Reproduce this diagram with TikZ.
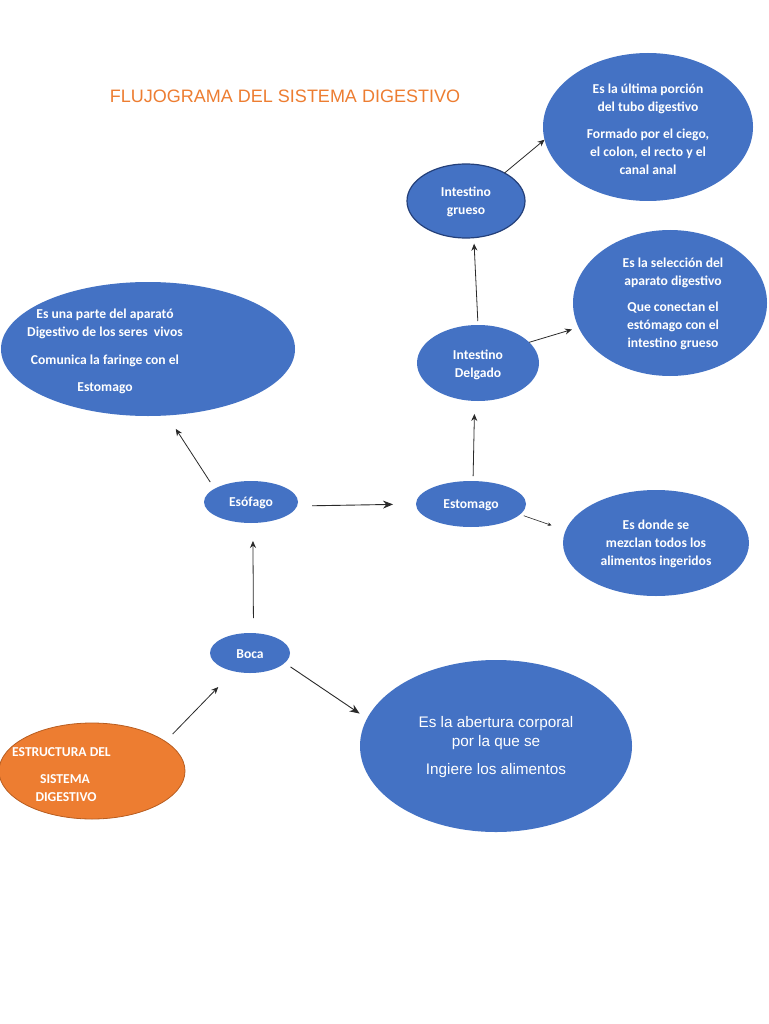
\documentclass[tikz,border=0pt]{standalone}
\usepackage{fontspec}
\setmainfont{Carlito}
\newfontfamily\arialf{Liberation Sans}
\usetikzlibrary{arrows.meta,shapes.geometric}
\definecolor{bl}{HTML}{4472C4}
\definecolor{orn}{HTML}{ED7D31}
\definecolor{ornd}{HTML}{B85D20}
\definecolor{grd}{HTML}{24407A}
\definecolor{arr}{HTML}{2A2A2A}
\begin{document}
\begin{tikzpicture}[x=1pt,y=-1pt,
  bub/.style={ellipse, fill=bl, inner sep=0pt, outer sep=0pt},
  txt/.style={text=white, font=\bfseries\fontsize{13.6}{18}\selectfont, align=center, inner sep=0pt},
  con/.style={draw=arr, line width=0.8pt, -{Stealth[length=7pt,width=6pt]}},
  bigcon/.style={draw=arr, line width=0.9pt, -{Stealth[length=10pt,width=8pt]}},
]
\useasboundingbox (0,0) rectangle (768,1024);
\fill[white] (0,0) rectangle (768,1024);

% title
\node[text=orn, font=\arialf\fontsize{18}{20}\selectfont, inner sep=0pt] (title) at (285,96) {FLUJOGRAMA DEL SISTEMA DIGESTIVO};

% ellipses
\node[bub, minimum width=294pt, minimum height=134pt] (d1) at (148,349) {};
\node[bub, minimum width=210pt, minimum height=148pt] (tr) at (648,127) {};
\node[bub, draw=grd, line width=1.2pt, minimum width=118pt, minimum height=74pt] (gru) at (466,201) {};
\node[bub, minimum width=194pt, minimum height=146pt] (r2) at (670,303) {};
\node[bub, minimum width=122pt, minimum height=76pt] (del) at (478,363) {};
\node[bub, minimum width=94pt, minimum height=42pt] (eso) at (251,502) {};
\node[bub, minimum width=110pt, minimum height=46pt] (est) at (471,504) {};
\node[bub, minimum width=186pt, minimum height=106pt] (rb) at (656,543) {};
\node[bub, minimum width=80pt, minimum height=40pt] (boca) at (250,653) {};
\node[bub, minimum width=272pt, minimum height=172pt] (big) at (496,746) {};
\node[ellipse, fill=orn, draw=ornd, line width=0.8pt, inner sep=0pt, minimum width=186pt, minimum height=96pt] (org) at (92,771) {};

% texts
\node[txt] (d1t) at (105,351) {Es una parte del aparató\\Digestivo de los seres\ \ vivos\\[10pt]Comunica la faringe con el\\[9pt]Estomago};
\node[txt] (trt) at (648,129) {Es la última porción\\del tubo digestivo\\[9pt]Formado por el ciego,\\el colon, el recto y el\\canal anal};
\node[txt] (grut) at (466,202) {Intestino\\grueso};
\node[txt] (r2t) at (673,304) {Es la selección del\\aparato digestivo\\[8pt]Que conectan el\\estómago con el\\intestino grueso};
\node[txt] (delt) at (478,365) {Intestino\\Delgado};
\node[txt] (esot) at (251,503) {Esófago};
\node[txt] (estt) at (471,505) {Estomago};
\node[txt] (rbt) at (656,544) {Es donde se\\mezclan todos los\\alimentos ingeridos};
\node[txt] (bocat) at (250,654) {Boca};
\node[text=white, font=\arialf\fontsize{15.3}{19}\selectfont, align=center, inner sep=0pt] (bigt) at (496,747) {Es la abertura corporal\\por la que se\\[9pt]Ingiere los alimentos};
\node[txt, anchor=west] (o1) at (12,752) {ESTRUCTURA DEL};
\node[txt] (o2) at (65,779) {SISTEMA};
\node[txt] (o3) at (66,797) {DIGESTIVO};

% connectors
\draw[con, shorten <=10pt, shorten >=22pt] (org.22) -- (boca.228);
\draw[bigcon, shorten <=7pt, shorten >=9pt] (boca.-16) -- (big.168);
\draw[con, shorten <=15pt, shorten >=18pt] (boca.80) -- (eso.-85);
\draw[con, shorten <=8pt, shorten >=16pt] (eso.160) -- (d1.-74);
\draw[bigcon, shorten <=15pt, shorten >=23pt] (eso.-5) -- (est.west);
\draw[draw=arr, line width=0.6pt, -{Stealth[length=4pt,width=3.5pt]}, shorten <=4pt, shorten >=15pt] (est.-12) -- (rb.172);
\draw[con, shorten <=5pt, shorten >=13pt] (est.85) -- (del.-95);
\draw[con, shorten >=7pt] (del.22) -- (r2.195);
\draw[con, shorten <=4pt, shorten >=6pt] (del.north) -- (gru.-78);
\draw[con] (gru.36) -- (tr.187);
\end{tikzpicture}
\end{document}
